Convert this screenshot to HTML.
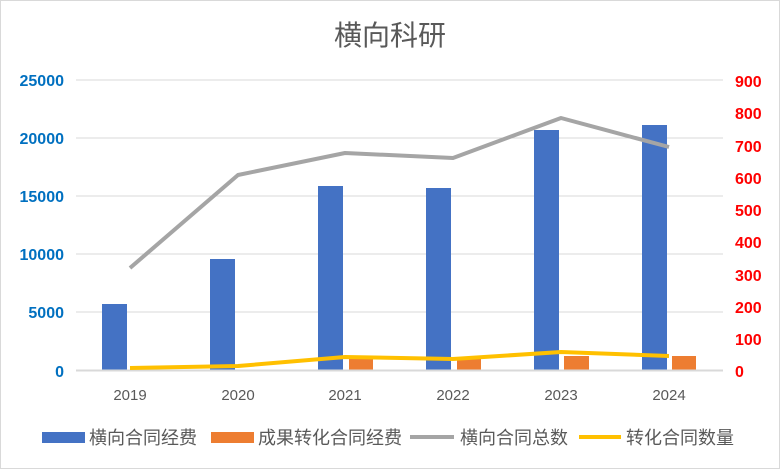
<!DOCTYPE html>
<html><head><meta charset="utf-8"><style>
body{margin:0;background:#fff}
svg{display:block;font-family:"Liberation Sans","Noto Sans CJK SC",sans-serif}
</style></head><body>
<svg width="780" height="469" viewBox="0 0 780 469">
<rect x="0.5" y="0.5" width="779" height="468" fill="#fff" stroke="#d9d9d9"/>
<text x="390" y="45" font-size="28" fill="#595959" text-anchor="middle">横向科研</text>
<g stroke="#d9d9d9" stroke-width="1">
<line x1="76" x2="723" y1="80" y2="80"/><line x1="76" x2="723" y1="138" y2="138"/>
<line x1="76" x2="723" y1="196" y2="196"/><line x1="76" x2="723" y1="254" y2="254"/>
<line x1="76" x2="723" y1="312" y2="312"/>
</g>
<g font-size="16" font-weight="bold" fill="#0070c0" text-anchor="end">
<text x="64" y="86">25000</text><text x="64" y="144">20000</text><text x="64" y="202">15000</text>
<text x="64" y="260">10000</text><text x="64" y="318">5000</text><text x="64" y="377">0</text>
</g>
<g font-size="16" font-weight="bold" fill="#ff0000" text-anchor="start">
<text x="735" y="87">900</text><text x="735" y="119">800</text><text x="735" y="152">700</text>
<text x="735" y="184">600</text><text x="735" y="216">500</text><text x="735" y="248">400</text>
<text x="735" y="281">300</text><text x="735" y="313">200</text><text x="735" y="345">100</text>
<text x="735" y="377">0</text>
</g>
<g fill="#4472c4">
<rect x="102" y="304" width="25" height="66"/><rect x="210" y="259" width="25" height="111"/>
<rect x="318" y="186" width="25" height="184"/><rect x="426" y="188" width="25" height="182"/>
<rect x="534" y="130" width="25" height="240"/><rect x="642" y="125" width="25" height="245"/>
</g>
<g fill="#ed7d31">
<rect x="349" y="359" width="24" height="11"/><rect x="457" y="359" width="24" height="11"/>
<rect x="564" y="356" width="25" height="14"/><rect x="672" y="356" width="24" height="14"/>
</g>
<line x1="76" x2="723" y1="370.5" y2="370.5" stroke="#d9d9d9" stroke-width="2"/>
<polyline points="130,268 238,175 345,153 453,158 561,118 669,147" fill="none" stroke="#a5a5a5" stroke-width="4" stroke-linejoin="round"/>
<polyline points="130,368 238,366 345,357 453,359 561,352 669,356" fill="none" stroke="#ffc000" stroke-width="4" stroke-linejoin="round"/>
<g font-size="15" fill="#595959" text-anchor="middle">
<text x="130" y="400">2019</text><text x="238" y="400">2020</text><text x="345" y="400">2021</text>
<text x="453" y="400">2022</text><text x="561" y="400">2023</text><text x="669" y="400">2024</text>
</g>
<g font-size="18" fill="#595959">
<rect x="42" y="432" width="43" height="11" fill="#4472c4"/><text x="89" y="444">横向合同经费</text>
<rect x="211" y="432" width="43" height="11" fill="#ed7d31"/><text x="258" y="444">成果转化合同经费</text>
<line x1="410" x2="454" y1="437" y2="437" stroke="#a5a5a5" stroke-width="4"/><text x="460" y="444">横向合同总数</text>
<line x1="579" x2="621" y1="437" y2="437" stroke="#ffc000" stroke-width="4"/><text x="626" y="444">转化合同数量</text>
</g>
</svg>
</body></html>
